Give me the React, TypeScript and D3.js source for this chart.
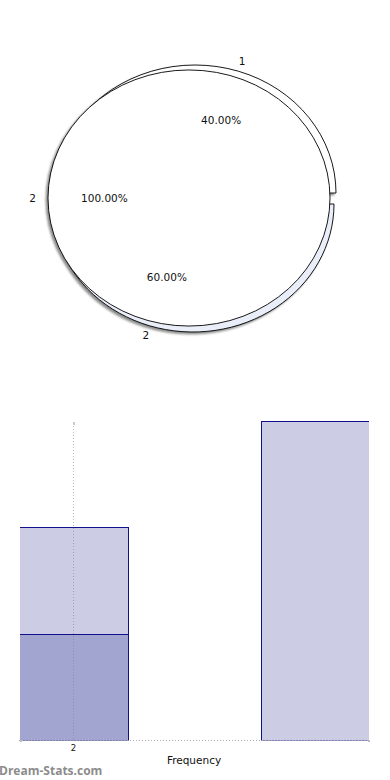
import * as d3 from "d3";

// pie: two exploded slices + a full 100% slice on top
const pieLabels = ["1", "2"];
const pieValues = [40, 60];
const fullLabels = ["2"];
const fullValues = [100];

// bars
const barCategories = ["1", "2"];
const darkValues = [1, 0];
const lightValues = [1, 3];
const xTickLabels = ["2"];

const W = 390;
const H = 780;

const pieCx = 189;
const pieCy = 198;
const rx = 141;
const ry = 128;
const sliceShift = [
  [6, -5],
  [4, 6],
];
const sliceFill = ["#ffffff", "#e9eef9"];

const plot = { left: 19, right: 370, top: 421, bottom: 740 };

export default function App() {
  const arc = d3.arc<d3.PieArcDatum<number>>().innerRadius(0).outerRadius(rx);
  const slices = d3
    .pie<number>()
    .sort(null)
    .startAngle(-0.3 * Math.PI)
    .endAngle(1.7 * Math.PI)(pieValues);
  const full = d3
    .pie<number>()
    .sort(null)
    .startAngle(Math.PI / 2)
    .endAngle(Math.PI / 2 + 2 * Math.PI)(fullValues);

  const pieTotal = d3.sum(pieValues);
  const fullTotal = d3.sum(fullValues);

  const labelPos = (a: d3.PieArcDatum<number>, k: number, sh: number[]) => {
    const m = (a.startAngle + a.endAngle) / 2;
    return [pieCx + sh[0] + Math.sin(m) * rx * k, pieCy + sh[1] - Math.cos(m) * ry * k];
  };

  const x = d3
    .scaleBand()
    .domain(barCategories)
    .range([plot.left, plot.right])
    .paddingInner(0.55)
    .paddingOuter(0);
  const y = d3.scaleLinear().domain([0, 3]).range([plot.bottom, plot.top]);

  const rows = barCategories.map((c, i) => ({ cat: c, dark: darkValues[i], light: lightValues[i] }));
  const stacked = d3.stack<any>().keys(["dark", "light"])(rows);
  const barFill = ["#a3a5d1", "#cccde5"];

  const sy = ry / rx;

  return (
    <svg
      width={W}
      height={H}
      style={{ position: "absolute", left: 0, top: 0, display: "block" }}
      fontFamily="DejaVu Sans, sans-serif"
    >
      <defs>
        <filter id="pieShadow" x="-10%" y="-10%" width="120%" height="120%">
          <feDropShadow dx={-2} dy={2} stdDeviation={1.2} floodColor="#000" floodOpacity={0.45} />
        </filter>
        <clipPath id="plotClip">
          <rect x={plot.left + 1} y={plot.top - 20} width={plot.right - plot.left - 2} height={plot.bottom - plot.top + 20.5} />
        </clipPath>
      </defs>
      <rect width={W} height={H} fill="#fff" />

      {/* pie */}
      <g filter="url(#pieShadow)">
        {slices.map((s, i) => (
          <path
            key={"s" + i}
            d={arc(s) ?? ""}
            transform={`translate(${pieCx + sliceShift[i][0]},${pieCy + sliceShift[i][1]}) scale(1,${sy})`}
            fill={sliceFill[i]}
            stroke="#000"
            strokeWidth={0.9}
            vectorEffect="non-scaling-stroke"
          />
        ))}
        {full.map((s, i) => (
          <path
            key={"f" + i}
            d={arc(s) ?? ""}
            transform={`translate(${pieCx},${pieCy}) scale(1,${sy})`}
            fill="#fff"
            stroke="#000"
            strokeWidth={0.9}
            vectorEffect="non-scaling-stroke"
          />
        ))}
      </g>
      <g fontSize={10.5} fill="#111" textAnchor="middle">
        {slices.map((s, i) => {
          const [ox, oy] = labelPos(s, 1.08, sliceShift[i]);
          const [px, py] = labelPos(s, 0.6, sliceShift[i]);
          return (
            <g key={"l" + i}>
              <text x={ox} y={oy} dy="0.35em">{pieLabels[i]}</text>
              <text x={px} y={py} dy="0.35em">{((pieValues[i] / pieTotal) * 100).toFixed(2)}%</text>
            </g>
          );
        })}
        {full.map((s, i) => {
          const [ox, oy] = labelPos(s, 1.11, [0, 0]);
          const [px, py] = labelPos(s, 0.6, [0, 0]);
          return (
            <g key={"fl" + i}>
              <text x={ox} y={oy} dy="0.35em">{fullLabels[i]}</text>
              <text x={px} y={py} dy="0.35em">{((fullValues[i] / fullTotal) * 100).toFixed(2)}%</text>
            </g>
          );
        })}
      </g>

      {/* bars */}
      <g clipPath="url(#plotClip)">
        {stacked.map((layer, li) =>
          layer.map((d, i) => {
            if (d[1] - d[0] <= 0) return null;
            const x0 = Math.round(x(barCategories[i]) ?? 0) + 0.5;
            const y0 = Math.round(y(d[1])) + 0.5;
            const y1 = Math.round(y(d[0])) + 0.5;
            return (
              <rect
                key={li + "-" + i}
                x={x0}
                y={y0}
                width={Math.round(x.bandwidth())}
                height={y1 - y0}
                fill={barFill[li]}
                stroke="#10108a"
                strokeWidth={1}
              />
            );
          })
        )}
      </g>
      {/* dotted gridline at tick */}
      {xTickLabels.map((t, i) => {
        const cx = Math.round((x(barCategories[i]) ?? 0) + x.bandwidth() / 2) + 0.5;
        return (
          <g key={"t" + i}>
            <line
              x1={cx}
              x2={cx}
              y1={y(3) + 2}
              y2={plot.bottom}
              stroke="#777"
              strokeOpacity={0.5}
              strokeDasharray="1,2"
            />
            <rect x={cx - 0.5} y={y(3) + 1} width={2} height={3} fill="#ccc" />
            <text x={cx} y={plot.bottom + 11} fontSize={8.5} textAnchor="middle" fill="#111">
              {t}
            </text>
          </g>
        );
      })}
      <line
        x1={plot.left}
        x2={plot.right}
        y1={plot.bottom + 0.5}
        y2={plot.bottom + 0.5}
        stroke="#aaa"
        strokeDasharray="1,2"
      />
      <rect x={plot.left + 1} y={plot.bottom} width={2} height={2} fill="#bbb" />
      <rect x={plot.right - 2} y={plot.bottom} width={2} height={2} fill="#bbb" />
      <text x={194} y={764} fontSize={10.5} textAnchor="middle" fill="#111">
        Frequency
      </text>
      <text x={-1} y={775} fontSize={12} fontWeight="bold" fill="#8c8c8c" fontFamily="Open Sans, DejaVu Sans, sans-serif">
        Dream-Stats.com
      </text>
    </svg>
  );
}
